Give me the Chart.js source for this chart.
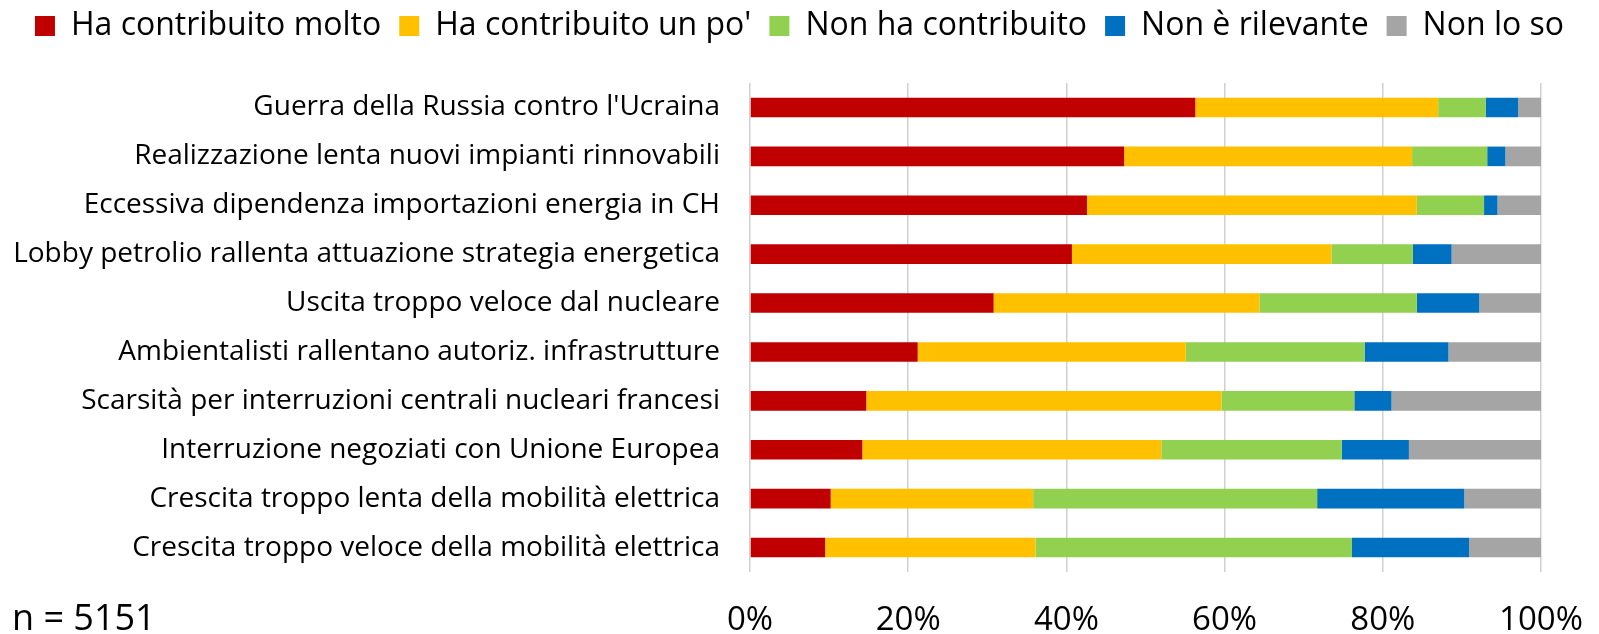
<!DOCTYPE html>
<html>
<head>
<meta charset="utf-8">
<title>Contributi alla crisi energetica</title>
<script src="https://cdn.jsdelivr.net/npm/chart.js@4/dist/chart.umd.min.js"></script>
<style>
  html, body { margin: 0; padding: 0; background: #ffffff; }
  #wrap { position: relative; width: 1599px; height: 634px; }
</style>
</head>
<body>
<div id="wrap"><canvas id="chart"></canvas></div>
<script>
const categories = [
  "Guerra della Russia contro l'Ucraina",
  'Realizzazione lenta nuovi impianti rinnovabili',
  'Eccessiva dipendenza importazioni energia in CH',
  'Lobby petrolio rallenta attuazione strategia energetica',
  'Uscita troppo veloce dal nucleare',
  'Ambientalisti rallentano autoriz. infrastrutture',
  'Scarsità per interruzioni centrali nucleari francesi',
  'Interruzione negoziati con Unione Europea',
  'Crescita troppo lenta della mobilità elettrica',
  'Crescita troppo veloce della mobilità elettrica',
];

const seriesNames = ['Ha contribuito molto', "Ha contribuito un po'", 'Non ha contribuito', 'Non è rilevante', 'Non lo so'];

// percent of respondents
const molto    = [56.3, 47.3, 42.6, 40.7, 30.8, 21.2, 14.7, 14.2, 10.2,  9.5];
const unPo     = [30.7, 36.4, 41.7, 32.8, 33.6, 33.9, 44.9, 37.8, 25.6, 26.6];
const nonContr = [ 6.0,  9.5,  8.5, 10.3, 19.9, 22.6, 16.8, 22.8, 35.9, 40.0];
const nonRil   = [ 4.1,  2.3,  1.7,  4.9,  7.9, 10.6,  4.7,  8.5, 18.6, 14.8];
const nonSo    = [ 2.9,  4.5,  5.5, 11.3,  7.8, 11.7, 18.9, 16.7,  9.7,  9.1];

const xTicks = [0, 20, 40, 60, 80, 100];
const sampleNote = 'n = 5151';

const colors = ['#C00000', '#FFC000', '#92D050', '#0070C0', '#A5A5A5'];
const FONT = '"Open Sans", "DejaVu Sans", sans-serif';
const CANVAS_W = 1599;

const datasets = [molto, unPo, nonContr, nonRil, nonSo].map((values, i) => ({
  label: seriesNames[i],
  data: values,
  backgroundColor: colors[i],
  borderWidth: 0,
  categoryPercentage: 1,
  barPercentage: 0.4,
}));

// legend: one row across the whole canvas, fixed band height; plus the n= note
const layoutTweaks = {
  id: 'layoutTweaks',
  beforeLayout(chart) {
    const legend = chart.legend;
    if (!legend || legend._tweaked) return;
    const origFit = legend.fit;
    legend.fit = function () {
      this.maxWidth = CANVAS_W;
      origFit.call(this);
      this.height = 91;
    };
    legend._tweaked = true;
  },
  afterLayout(chart) {
    const legend = chart.legend;
    if (!legend) return;
    legend.left = 0;
    legend.right = CANVAS_W;
    legend.width = CANVAS_W;
  },
  afterDraw(chart) {
    const ctx = chart.ctx;
    ctx.save();
    ctx.font = '36px ' + FONT;
    ctx.fillStyle = '#000000';
    ctx.textAlign = 'left';
    ctx.textBaseline = 'middle';
    ctx.fillText(sampleNote, 12, 620);
    ctx.restore();
  },
};

new Chart(document.getElementById('chart'), {
  type: 'bar',
  data: { labels: categories, datasets },
  plugins: [layoutTweaks],
  options: {
    indexAxis: 'y',
    responsive: true,
    maintainAspectRatio: false,
    animation: false,
    layout: { padding: { top: -8, right: 58, bottom: 0, left: 0 } },
    plugins: {
      tooltip: { enabled: false },
      legend: {
        position: 'top',
        labels: {
          color: '#000000',
          font: { family: FONT, size: 32 },
          boxWidth: 20,
          boxHeight: 20,
          padding: 18,
        },
      },
    },
    scales: {
      x: {
        stacked: true,
        min: 0,
        max: 100,
        afterBuildTicks(axis) { axis.ticks = xTicks.map(v => ({ value: v })); },
        afterFit(axis) {
          axis.height = 62;
          // let layout.padding decide the right edge, not the "100%" label
          axis.paddingLeft = 0;
          axis.paddingRight = 0;
        },
        grid: { color: '#d0d0d0', lineWidth: 1.5, drawTicks: false },
        border: { display: false },
        ticks: {
          color: '#000000',
          font: { family: FONT, size: 33 },
          padding: 29,
          maxRotation: 0,
          callback: v => v + '%',
        },
      },
      y: {
        stacked: true,
        afterFit(axis) { axis.width = 750; },
        grid: { display: false },
        border: { display: false },
        ticks: {
          color: '#000000',
          font: { family: FONT, size: 28 },
          padding: 22,
          autoSkip: false,
        },
      },
    },
  },
});
</script>
</body>
</html>
